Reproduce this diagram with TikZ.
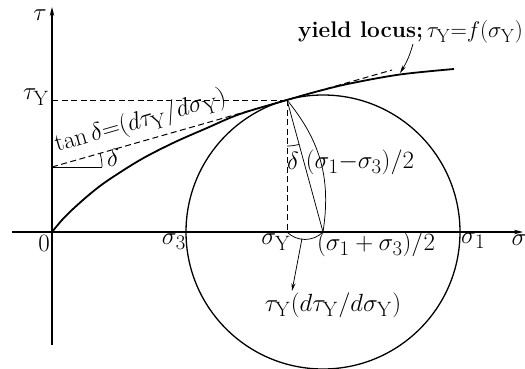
\documentclass[tikz,border=0pt]{standalone}
\usetikzlibrary{arrows.meta}
\begin{document}
\begin{tikzpicture}[x=1pt,y=-1pt,
  lbl/.style={font=\Huge, inner sep=0pt},
  axis/.style={line width=1.1pt,-{Stealth[length=9pt,width=4.5pt]}},
  thinl/.style={line width=0.75pt},
  dsh/.style={line width=1pt,dash pattern=on 6pt off 3.5pt},
  locus/.style={line width=1.8pt},
  circ/.style={line width=1.3pt},
  arr/.style={thinl,-{Stealth[length=8pt,width=4pt]}}]
\useasboundingbox (0,0) rectangle (525,369);
% key points
\coordinate (O) at (52,232);
\coordinate (xl) at (12,232);
\coordinate (xr) at (523,232);
\coordinate (yb) at (52,345);
\coordinate (yt) at (52,7);
\coordinate (C) at (323,232);
\coordinate (T) at (287,100);
\coordinate (SY) at (287,232);
\coordinate (TY) at (52,100);
\coordinate (A) at (52,167);
\coordinate (A2) at (102,167);
\coordinate (Tend) at (392,70);
\coordinate (Ta) at (287,146);
\coordinate (B1) at (302,238.5);
\coordinate (B2) at (292,291);
\coordinate (L1) at (413,44);
\coordinate (L2) at (400,73);
% axes
\draw[axis] (xl) -- (xr);
\draw[axis] (yb) -- (yt);
% Mohr circle
\draw[circ] (C) circle[radius=137];
% yield locus
\draw[locus] plot[smooth,tension=0.55] coordinates {(52,232) (62,220) (73,209) (90,194) (107,181) (140,160) (173,143) (207,128) (240,114) (287,100) (317,91.5) (350,83.5) (400,74.5) (454,69)};
% tangent and helper lines
\draw[dsh] (A) -- (Tend);
\draw[dsh] (TY) -- (T);
\draw[dsh] (T) -- (SY);
\draw[thinl] (A) -- (A2);
\draw[thinl] (A2) arc[start angle=0,end angle=-16,radius=50];
\draw[thinl] (T) -- (C);
\draw[thinl] (Ta) arc[start angle=90,end angle=74.7,radius=46];
\draw[thinl] (T) to[bend left=24] (C);
\draw[thinl] (SY) to[bend right=45] (C);
\draw[arr] (B1) -- (B2);
\draw[arr] (L1) to[bend left=8] (L2);
% labels
\node[lbl] (ltau) at (40,15) {$\tau$};
\node[lbl] (ltauY) at (36,97) {$\tau_{\mathrm{Y}}$};
\node[lbl] (l0) at (44,243) {$0$};
\node[lbl,anchor=east] (ls3) at (186,242) {$\sigma_3$};
\node[lbl] (lsY) at (276,242) {$\sigma_{\mathrm{Y}}$};
\node[lbl,anchor=west] (ls1) at (461,241) {$\sigma_1$};
\node[lbl] (ls) at (519,240) {$\sigma$};
\node[lbl] (ld1) at (113,158) {$\delta$};
\node[lbl] (ld2) at (293,161) {$\delta$};
\node[lbl] (lsum) at (376,244) {$(\sigma_1+\sigma_3)/2$};
\node[lbl] (ldiff) at (360,162) {$(\sigma_1{-}\sigma_3)/2$};
\node[lbl] (lprod) at (333,305) {$\tau_{\mathrm{Y}}(d\tau_{\mathrm{Y}}/d\sigma_{\mathrm{Y}})$};
\node[lbl,anchor=east,scale=0.91,transform shape] (lyield) at (523,32) {\textbf{yield locus;}$\,\tau_{\mathrm{Y}}{=}f(\sigma_{\mathrm{Y}})$};
\node[lbl,rotate=16,anchor=base west] (ltan) at (57,152) {$\tan\delta{=}(d\tau_{\mathrm{Y}}/d\sigma_{\mathrm{Y}})$};
\end{tikzpicture}
\end{document}
